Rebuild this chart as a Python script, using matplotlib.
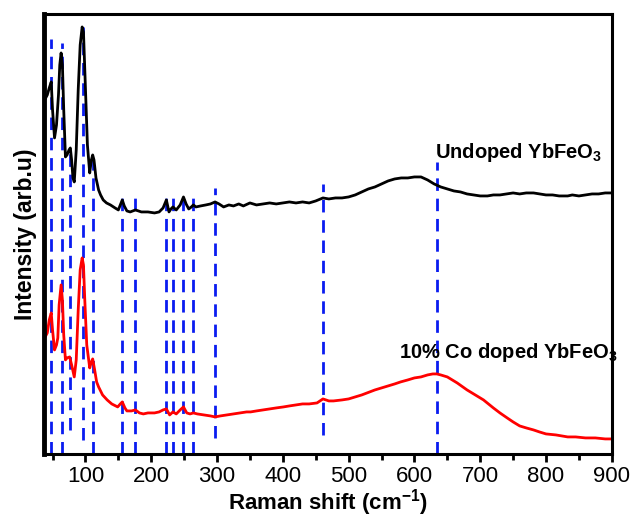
import matplotlib
matplotlib.use('Agg')
import matplotlib.pyplot as plt
from matplotlib.ticker import MultipleLocator

plt.rcParams['font.family'] = 'Liberation Sans'
plt.rcParams['mathtext.fontset'] = 'custom'
plt.rcParams['mathtext.rm'] = 'Liberation Sans:bold'
plt.rcParams['mathtext.default'] = 'rm'

# Undoped YbFeO3 spectrum (offset upper trace)
undoped_shift = [38, 42, 45, 48, 50, 53, 56, 59, 61, 63, 65, 67, 69.6, 72, 75, 77, 79, 81, 83, 86,
                 89, 92, 95, 97, 99, 101, 103, 106.5, 109, 111, 113, 116, 120, 123, 127, 132, 138,
                 145, 150, 153, 156, 159, 163, 168, 176, 185, 195, 205, 212, 218, 223, 227, 230,
                 233, 238, 244, 249, 253, 257, 261, 264, 268, 275, 283, 290, 297, 303, 310, 318,
                 325, 333, 340, 350, 360, 370, 380, 390, 400, 410, 420, 430, 440, 450, 461, 470,
                 480, 490, 500, 510, 520, 530, 540, 550, 560, 570, 580, 590, 600, 610, 620, 630,
                 640, 650, 660, 670, 680, 690, 700, 711, 720, 730, 740, 750, 760, 770, 781, 790,
                 800, 810, 820, 833, 840, 850, 860, 870, 880, 890, 900]
undoped_int = [354, 359, 366, 372, 344, 316, 329, 359, 389, 401, 389, 344, 297, 299, 304, 306, 294,
               276, 272, 304, 364, 409, 427, 422, 384, 344, 309, 281, 294, 299, 294, 276, 264, 259,
               254, 251, 249, 246, 244, 249, 254, 248, 243, 242, 244, 242, 242, 241, 242, 246, 254,
               242, 245, 247, 244, 249, 257, 250, 245, 247, 249, 247, 248, 249, 250, 252, 250, 247,
               249, 248, 250, 248, 251, 249, 250, 251, 250, 251, 252, 251, 252, 251, 253, 256, 255,
               256, 256, 257, 259, 262, 265, 267, 270, 273, 275, 276, 276, 277, 277, 274, 270, 267,
               265, 263, 262, 260, 259, 258, 258, 259, 259, 260, 261, 260, 261, 261, 260, 259, 259,
               258, 258, 259, 258, 259, 260, 260, 261, 261]

# 10% Co doped YbFeO3 spectrum (lower trace)
doped_shift = [38, 42, 45, 48, 50, 53, 56, 58, 60, 63, 65, 67, 69.6, 72, 76, 79, 83, 86, 89, 92,
               95, 97, 99, 102, 106.5, 109, 111, 114, 117, 120, 126, 133, 140, 149, 153, 156, 160,
               163, 170, 176, 182, 188, 195, 205, 212, 218, 223, 228, 233, 238, 244, 249, 254, 259,
               264, 270, 280, 290, 297, 305, 315, 325, 335, 345, 351, 360, 370, 380, 390, 401, 410,
               420, 430, 440, 452, 461, 470, 477, 490, 500, 510, 520, 528, 540, 550, 560, 570, 579,
               590, 600, 610, 620, 628, 634, 640, 650, 665, 680, 690, 705, 720, 730, 741, 750, 760,
               770, 781, 790, 800, 815, 833, 845, 860, 875, 890, 900]
doped_int = [116, 121, 134, 141, 124, 104, 109, 116, 149, 169, 154, 119, 94, 96, 97, 89, 77, 94,
             144, 184, 196, 189, 154, 109, 86, 92, 95, 84, 72, 67, 59, 54, 50, 47, 50, 52, 46, 43,
             43, 44, 41, 40, 41, 41, 42, 44, 45, 39, 42, 40, 44, 47, 41, 40, 41, 40, 39, 38, 37,
             38, 39, 40, 41, 42, 42, 43, 44, 45, 46, 47, 48, 49, 50, 50, 51, 55, 53, 53, 54, 55,
             57, 59, 61, 64, 66, 68, 70, 72, 74, 76, 77, 79, 80, 80, 79, 77, 71, 64, 60, 54, 46,
             41, 36, 32, 28, 26, 24, 22, 20, 19, 17, 17, 16, 16, 15, 15]

# Raman mode positions marked with dashed lines, with vertical extent of each marker
mode_pos = [48, 64, 77, 96, 111, 156, 176, 223, 233, 249, 264, 297, 461, 634]
mode_top = [415, 411, 306, 427, 297, 261, 259, 256, 257, 258, 258, 266, 270, 292]
mode_bottom = [0, 0, 24, 14, 0, 0, 0, 0, 0, 0, 0, 16, 19, 0]

fig = plt.figure(figsize=(6.33, 5.17), dpi=100)
ax = fig.add_axes([0.0695, 0.122, 0.897, 0.851])

for x, y0, y1 in zip(mode_pos, mode_bottom, mode_top):
    ax.plot([x, x], [y0, y1], color='#0a1cf0', lw=2.0, ls=(0, (4.5, 2.8)), zorder=1)

ax.plot(undoped_shift, undoped_int, color='black', lw=2.0, zorder=2)
ax.plot(doped_shift, doped_int, color='#ff0000', lw=2.0, zorder=2)

ax.text(632, 301, 'Undoped YbFeO$_3$', fontsize=14.5, fontweight='bold', va='center', ha='left')
ax.text(576, 101, '10% Co doped YbFeO$_3$', fontsize=14.5, fontweight='bold', va='center', ha='left')

ax.set_xlim(37, 900)
ax.set_ylim(0, 440)
ax.xaxis.set_major_locator(MultipleLocator(100))
ax.xaxis.set_minor_locator(MultipleLocator(50))
ax.set_yticks([])
ax.tick_params(axis='x', which='major', direction='out', length=6, width=2, labelsize=16, pad=3)
ax.tick_params(axis='x', which='minor', direction='out', length=4, width=2)
for side in ['top', 'right', 'bottom']:
    ax.spines[side].set_linewidth(2.2)
ax.spines['left'].set_linewidth(3.5)

ax.set_xlabel('Raman shift (cm$^{-1}$)', fontsize=16, fontweight='bold', labelpad=0)
ax.set_ylabel('Intensity (arb.u)', fontsize=16.5, fontweight='bold', labelpad=5)

fig.savefig('out.png', dpi=100)
